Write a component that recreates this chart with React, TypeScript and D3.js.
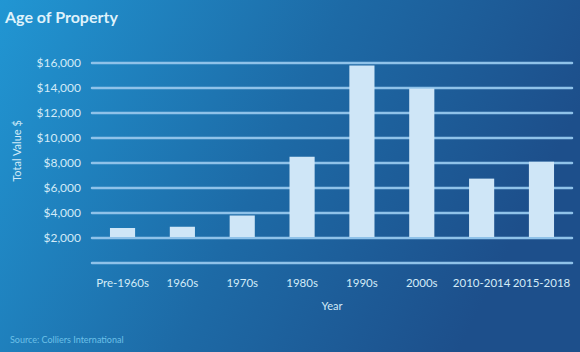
import { useEffect, useRef } from "react";
import * as d3 from "d3";

const categories = ["Pre-1960s", "1960s", "1970s", "1980s", "1990s", "2000s", "2010-2014", "2015-2018"];
const values = [2800, 2900, 3800, 8500, 15800, 13950, 6750, 8100];
const yTicks = [2000, 4000, 6000, 8000, 10000, 12000, 14000, 16000];
const barBase = 2000;

const App = () => {
  const svgRef = useRef(null);
  const width = 580;
  const height = 352;
  const margin = { top: 63, right: 8, bottom: 89, left: 92 };

  useEffect(() => {
    document.body.style.margin = "0";
    const svg = d3.select(svgRef.current);
    svg.selectAll("*").remove();

    // background gradient
    const defs = svg.append("defs");
    const grad = defs
      .append("linearGradient")
      .attr("id", "bg")
      .attr("x1", "0%")
      .attr("y1", "0%")
      .attr("x2", "100%")
      .attr("y2", "30%");
    grad.append("stop").attr("offset", "0%").attr("stop-color", "#2196d3");
    grad.append("stop").attr("offset", "55%").attr("stop-color", "#1d6aa6");
    grad.append("stop").attr("offset", "100%").attr("stop-color", "#1d4f8b");
    svg.append("rect").attr("width", width).attr("height", height).attr("fill", "url(#bg)");

    const x = d3
      .scaleBand()
      .domain(categories)
      .range([margin.left, width - margin.right])
      .paddingInner(0.58)
      .paddingOuter(0.3);

    const y = d3
      .scaleLinear()
      .domain([0, 16000])
      .range([height - margin.bottom, margin.top]);

    const font = "Lato, 'Open Sans', sans-serif";
    const light = "#d3ebf8";

    // gridlines incl. baseline at 0
    svg
      .append("g")
      .selectAll("line")
      .data([0, ...yTicks])
      .enter()
      .append("line")
      .attr("x1", margin.left)
      .attr("x2", width - margin.right)
      .attr("y1", (d) => y(d))
      .attr("y2", (d) => y(d))
      .attr("stroke", "#8fc2e9")
      .attr("stroke-width", 2.5)
      .attr("stroke-linecap", "round");

    // y labels
    svg
      .append("g")
      .selectAll("text")
      .data(yTicks)
      .enter()
      .append("text")
      .attr("x", margin.left - 11)
      .attr("y", (d) => y(d))
      .attr("dy", "0.35em")
      .attr("text-anchor", "end")
      .attr("font-family", font)
      .attr("font-size", "12px")
      .attr("fill", light)
      .text((d) => "$" + d3.format(",")(d));

    // bars
    svg
      .append("g")
      .selectAll("rect")
      .data(values)
      .enter()
      .append("rect")
      .attr("x", (d, i) => x(categories[i]))
      .attr("width", x.bandwidth())
      .attr("y", (d) => y(d))
      .attr("height", (d) => y(barBase) - y(d) - 1)
      .attr("fill", "#cfe6f7");

    // x labels
    svg
      .append("g")
      .selectAll("text")
      .data(categories)
      .enter()
      .append("text")
      .attr("x", (d) => x(d) + x.bandwidth() / 2)
      .attr("y", 287)
      .attr("text-anchor", "middle")
      .attr("font-family", font)
      .attr("font-size", "11.5px")
      .attr("fill", light)
      .text((d) => d);

    // axis titles
    svg
      .append("text")
      .attr("x", (margin.left + width - margin.right) / 2)
      .attr("y", 310)
      .attr("text-anchor", "middle")
      .attr("font-family", font)
      .attr("font-size", "11px")
      .attr("fill", light)
      .text("Year");

    svg
      .append("text")
      .attr("transform", "translate(21,151) rotate(-90)")
      .attr("text-anchor", "middle")
      .attr("font-family", font)
      .attr("font-size", "11px")
      .attr("fill", light)
      .text("Total Value $");

    // title and source
    svg
      .append("text")
      .attr("x", 5)
      .attr("y", 23)
      .attr("font-family", font)
      .attr("font-size", "16px")
      .attr("font-weight", "bold")
      .attr("fill", "#dff2fb")
      .text("Age of Property");

    svg
      .append("text")
      .attr("x", 10)
      .attr("y", 343)
      .attr("font-family", font)
      .attr("font-size", "9px")
      .attr("fill", "#6cc0e8")
      .text("Source: Colliers International");
  }, []);

  return <svg ref={svgRef} width={width} height={height} style={{ display: "block" }} />;
};

export default App;
